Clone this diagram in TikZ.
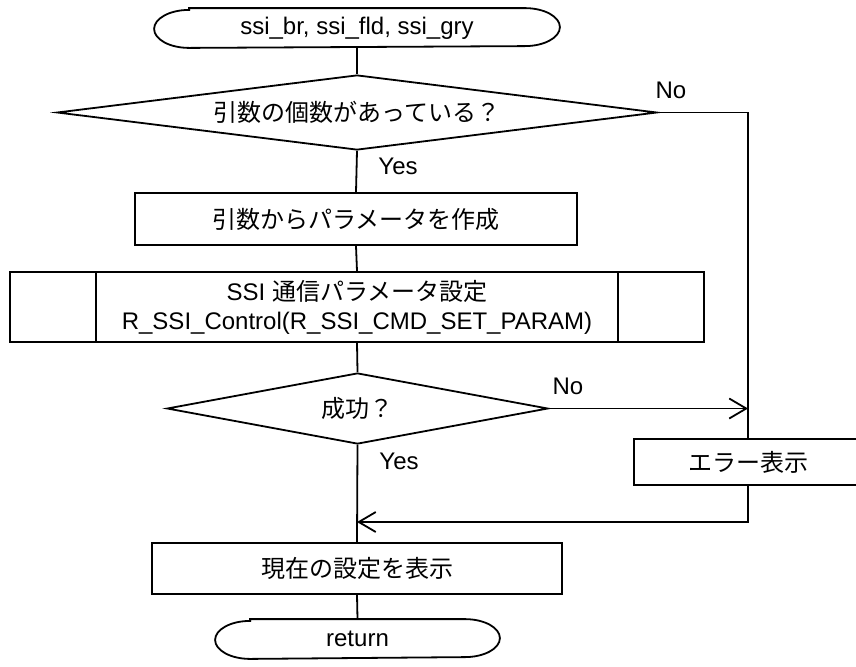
\documentclass[tikz,border=0pt]{standalone}
\usepackage{fontspec}
\setmainfont{Liberation Sans}
\newfontfamily\jp{Noto Sans CJK JP}
\usetikzlibrary{shapes.geometric,arrows.meta,calc}
\newcommand\stadiumoutline[1]{%
  \draw ([xshift=17.5pt]#1.north west) -- ([xshift=-17.5pt]#1.north east)
    arc[start angle=90,end angle=-90,x radius=17.5pt,y radius=9.5pt]
    -- ([xshift=17.5pt]#1.south west)
    arc[start angle=270,end angle=90,x radius=17.5pt,y radius=9.5pt] -- cycle;}
\begin{document}
\begin{tikzpicture}[x=0.5pt,y=-0.5pt, line width=0.9pt,
  font=\fontsize{12}{14.5}\selectfont,
  every node/.style={inner sep=0pt},
  box/.style={draw, rectangle},
  termnode/.style={rectangle},
  dec/.style={draw, diamond},
  arr/.style={-{Straight Barb[length=8.5pt,width=10pt]}}]
\useasboundingbox (0,0) rectangle (856,666);

% nodes
\node[termnode, minimum width=202pt, minimum height=19pt] (t1) at (357,28) {ssi\_br, ssi\_fld, ssi\_gry};
\stadiumoutline{t1}
\node[dec, minimum width=300pt, minimum height=37.5pt, aspect=8] (d1) at (357,112.5) {\jp 引数の個数があっている？};
\node[box, minimum width=221pt, minimum height=26pt] (b2) at (356,219) {\jp 引数からパラメータを作成};
\node[box, minimum width=347pt, minimum height=35pt, align=center] (pred) at (357,307)
  {SSI {\jp 通信パラメータ設定}\\R\_SSI\_Control(R\_SSI\_CMD\_SET\_PARAM)};
\draw ([xshift=43.5pt]pred.north west) -- ([xshift=43.5pt]pred.south west);
\draw ([xshift=-43.5pt]pred.north east) -- ([xshift=-43.5pt]pred.south east);
\node[dec, minimum width=190.5pt, minimum height=35.5pt, aspect=5.4] (d2) at (357.5,408.5) {\jp 成功？};
\node[box, minimum width=114pt, minimum height=23pt] (err) at (748,462) {\jp エラー表示};
\node[box, minimum width=205pt, minimum height=25.5pt] (cur) at (357,568.5) {\jp 現在の設定を表示};
\node[termnode, minimum width=141.5pt, minimum height=19pt] (ret) at (357.5,639) {return};
\stadiumoutline{ret}

% labels
\node (no1) at (671,90) {No};
\node (yes1) at (398,166) {Yes};
\node (no2) at (568,386) {No};
\node (yes2) at (399,461) {Yes};

% connectors
\draw (t1.south) -- (d1.north);
\draw (d1.south) -- (b2.north);
\draw (b2.south) -- (pred.north);
\draw (pred.south) -- (d2.north);
\draw (d2.south) -- (cur.north);
\draw (cur.south) -- (ret.north);
\draw (d1.east) -| (err.north);
\draw[arr] (d2.east) -- (d2.east -| err.north);
\coordinate (join) at (357,522);
\draw[arr] (err.south) |- (join);
\end{tikzpicture}
\end{document}
